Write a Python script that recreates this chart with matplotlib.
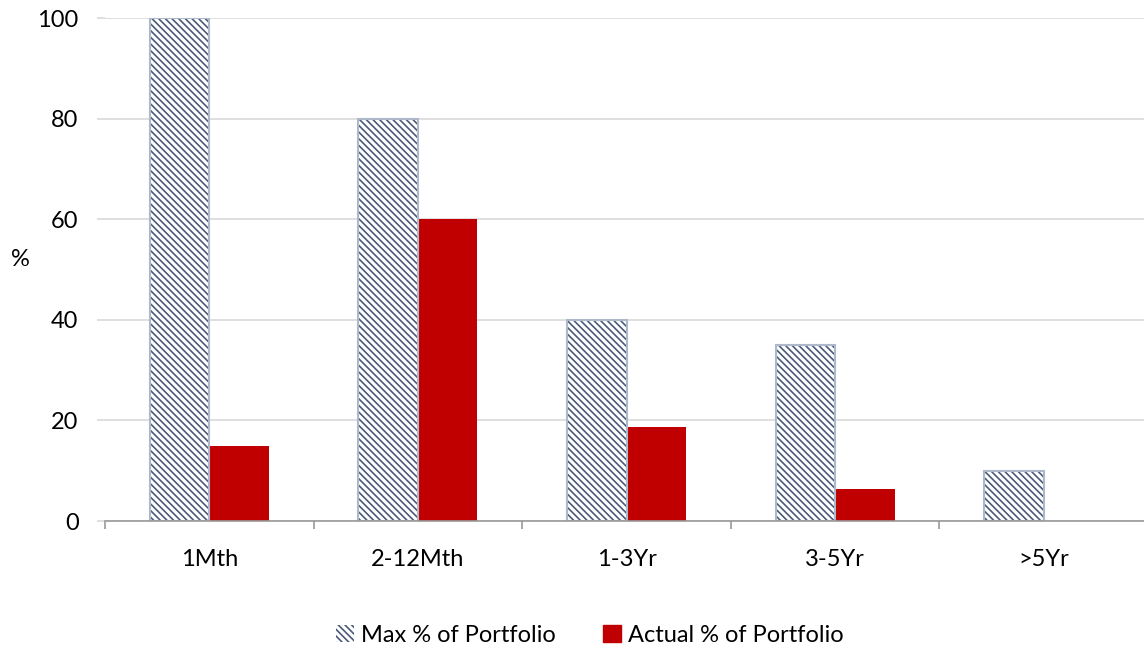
import matplotlib
matplotlib.use("Agg")
import matplotlib.pyplot as plt
import numpy as np
from matplotlib.patches import Patch

categories = ["1Mth", "2-12Mth", "1-3Yr", "3-5Yr", ">5Yr"]
max_pct = [100, 80, 40, 35, 10]
actual_pct = [15, 60, 18.7, 6.4, 0]

plt.rcParams['font.family'] = ['Lato', 'DejaVu Sans']
plt.rcParams['hatch.linewidth'] = 1.2

fig = plt.figure(figsize=(11.44, 6.51), dpi=100)
ax = fig.add_axes([105/1144, 1 - 521/651, (1148-105)/1144, (521-18)/651])

x = np.arange(len(categories))
w = 0.285
hatch_col = "#4A5A78"
edge_col = "#ADB9CA"
red = "#C00000"
fs = 17
hatch = "\\" * 5

ax.bar(x - w/2, max_pct, w, color="white", edgecolor=hatch_col, hatch=hatch, linewidth=0, zorder=3)
ax.bar(x - w/2, max_pct, w, fill=False, edgecolor=edge_col, linewidth=1.5, zorder=4)
ax.bar(x + w/2, actual_pct, w, color=red, edgecolor=red, linewidth=0, zorder=3)

ax.set_xlim(-0.5, len(categories) - 0.5)
ax.set_ylim(0, 100)
ax.set_yticks([0, 20, 40, 60, 80, 100])
ax.yaxis.grid(True, color="#D9D9D9", linewidth=1.2, zorder=0)
ax.set_axisbelow(True)

for s in ["top", "right", "left"]:
    ax.spines[s].set_visible(False)
ax.spines["bottom"].set_color("#999999")
ax.spines["bottom"].set_linewidth(1.2)
ax.spines["bottom"].set_zorder(5)

ax.set_xticks(x)
ax.set_xticklabels(categories, fontsize=fs)
ax.set_xticks(np.arange(len(categories) + 1) - 0.5, minor=True)
ax.tick_params(axis="x", which="major", length=0, pad=20)
ax.tick_params(axis="x", which="minor", length=6, color="#999999", width=1.2)
ax.tick_params(axis="y", length=6, color="#D9D9D9", width=1.2, labelsize=fs, pad=13)

ax.set_ylabel("%", fontsize=fs, rotation=0, labelpad=0)
ax.yaxis.set_label_coords(-85/1043, 0.5)

handles = [
    Patch(facecolor="white", edgecolor=hatch_col, hatch=hatch, linewidth=0),
    Patch(facecolor=red, edgecolor=red),
]
leg = fig.legend(handles, ["Max % of Portfolio", "Actual % of Portfolio"],
                 loc="center", bbox_to_anchor=(590/1144, 1 - 635/651), ncol=2,
                 frameon=False, fontsize=fs, handlelength=0.75, handleheight=0.75,
                 handletextpad=0.3, columnspacing=2.0)

fig.savefig("out.png", dpi=100)
